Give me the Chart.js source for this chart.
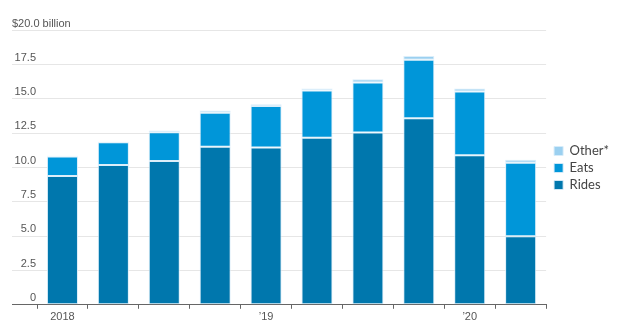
<!DOCTYPE html>
<html>
<head>
<meta charset="utf-8">
<script src="https://cdn.jsdelivr.net/npm/chart.js@4"></script>
<style>
    html, body { margin: 0; padding: 0; background: #fff; }
    #wrap { width: 619px; height: 332px; position: relative; }
</style>
</head>
<body>
<div id="wrap"><canvas id="revenue-chart"></canvas></div>
<script>
// Quarterly gross bookings by segment, $ billion
const quarters = ['Q1 2018', 'Q2 2018', 'Q3 2018', 'Q4 2018', 'Q1 2019', 'Q2 2019', 'Q3 2019', 'Q4 2019', 'Q1 2020', 'Q2 2020'];
const tickLabels = ['2018', '', '', '', '\u201919', '', '', '', '\u201920', ''];
const rides = [9.38, 10.18, 10.48, 11.52, 11.45, 12.16, 12.55, 13.58, 10.89, 5.00];
const eats = [1.42, 1.65, 2.09, 2.47, 3.03, 3.44, 3.64, 4.27, 4.64, 5.35];
const other = [0.05, 0.05, 0.13, 0.17, 0.12, 0.15, 0.24, 0.27, 0.22, 0.22];

const TICK_FONT = { family: '"Liberation Sans Narrow", "Liberation Sans", sans-serif', size: 11, weight: 'normal' };
const TEXT_GRAY = '#555';
const GRID_GRAY = '#e6e6e6';
const AXIS_GRAY = '#666';
const BAR_EDGE = 'rgba(215, 236, 249, 0.9)';

const makeSet = (label, data, color) => ({
    label,
    data,
    backgroundColor: color,
    borderColor: BAR_EDGE,
    borderWidth: 1,
    borderSkipped: false,
    barPercentage: 0.61,
    categoryPercentage: 1.0,
});

// nudge the legend a little away from the plot
const legendNudge = {
    id: 'legendNudge',
    afterLayout(chart) {
        const lg = chart.legend;
        if (lg) {
            lg.left += 4;
            lg.right += 4;
            lg.top += 5;
            lg.bottom += 5;
        }
    }
};

new Chart(document.getElementById('revenue-chart'), {
    type: 'bar',
    data: {
        labels: quarters,
        datasets: [
            makeSet('Rides', rides, '#0077ad'),
            makeSet('Eats', eats, '#0096d9'),
            makeSet('Other*', other, '#9bd0f0'),
        ]
    },
    plugins: [legendNudge],
    options: {
        responsive: true,
        maintainAspectRatio: false,
        animation: false,
        layout: { padding: { left: 12, right: 4, top: 0, bottom: 6 } },
        scales: {
            x: {
                stacked: true,
                border: { display: true, color: AXIS_GRAY, width: 1 },
                grid: { drawOnChartArea: false, drawTicks: true, tickLength: 4, color: AXIS_GRAY },
                ticks: {
                    autoSkip: false,
                    maxRotation: 0,
                    padding: 2,
                    color: TEXT_GRAY,
                    font: TICK_FONT,
                    callback: (value, index) => tickLabels[index],
                }
            },
            y: {
                stacked: true,
                min: 0,
                max: 20,
                afterFit: (scale) => { scale.width = 25; },
                border: { display: false },
                grid: {
                    color: (ctx) => (ctx.tick && ctx.tick.value === 0 ? AXIS_GRAY : GRID_GRAY),
                    tickColor: (ctx) => (ctx.tick && ctx.tick.value === 0 ? AXIS_GRAY : GRID_GRAY),
                    drawTicks: true,
                    tickLength: 25,
                },
                ticks: {
                    stepSize: 2.5,
                    padding: -24,
                    labelOffset: -7,
                    color: TEXT_GRAY,
                    font: TICK_FONT,
                    callback: (v) => (v === 20 ? '' : v === 0 ? '0' : v.toFixed(1)),
                }
            }
        },
        plugins: {
            title: {
                display: true,
                text: '$20.0 billion',
                align: 'start',
                color: TEXT_GRAY,
                font: TICK_FONT,
                padding: { top: 17, bottom: 0 },
            },
            legend: {
                position: 'right',
                reverse: true,
                labels: {
                    boxWidth: 9,
                    boxHeight: 9,
                    padding: 4,
                    color: '#444',
                    font: { family: 'Lato, "Liberation Sans", sans-serif', size: 13 },
                }
            },
            tooltip: { enabled: false }
        }
    }
});
</script>
</body>
</html>
